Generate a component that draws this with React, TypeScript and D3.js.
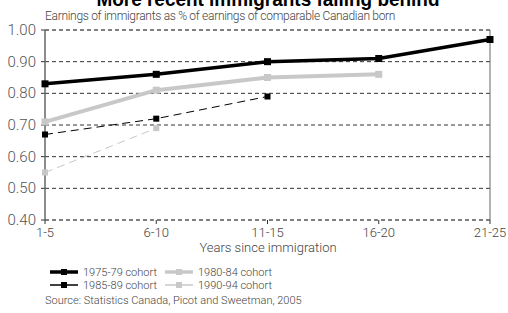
import React from "react";
import * as d3 from "d3";

const categories = ["1-5", "6-10", "11-15", "16-20", "21-25"];
const yTicks = [0.4, 0.5, 0.6, 0.7, 0.8, 0.9, 1.0];
const cohort7579 = [0.83, 0.86, 0.9, 0.91, 0.97];
const cohort8084 = [0.71, 0.81, 0.85, 0.86];
const cohort8589 = [0.67, 0.72, 0.79];
const cohort9094 = [0.55, 0.69];
const seriesNames = ["1975-79 cohort", "1980-84 cohort", "1985-89 cohort", "1990-94 cohort"];

const W = 508, H = 313;
const FONT = "Roboto, 'Open Sans', sans-serif";

export default function App() {
  const x = d3.scalePoint<string>().domain(categories).range([45, 490]);
  const y = d3.scaleLinear().domain([0.4, 1.0]).range([220, 30]);
  const line = d3.line<number>().x((_, i) => x(categories[i])!).y((d) => y(d));

  const series = [
    { name: seriesNames[0], data: cohort7579, color: "#000", width: 3.5, dash: "", ms: 7 },
    { name: seriesNames[1], data: cohort8084, color: "#c8c8c8", width: 4, dash: "", ms: 7 },
    { name: seriesNames[2], data: cohort8589, color: "#000", width: 1, dash: "8,5", ms: 6 },
    { name: seriesNames[3], data: cohort9094, color: "#c8c8c8", width: 1, dash: "8,5", ms: 6 },
  ];

  const legendPos = [
    { x: 50, y: 272 },
    { x: 165, y: 272 },
    { x: 50, y: 285 },
    { x: 165, y: 285 },
  ];

  return (
    <svg width={W} height={H} style={{ position: "absolute", left: 0, top: 0, background: "#fff" }}>
      <text x={268} y={6} textAnchor="middle" fontFamily="'Liberation Sans', Arial, sans-serif" fontWeight="bold" fontSize={20} fill="#000" textLength={343} lengthAdjust="spacingAndGlyphs">
        More recent immigrants falling behind
      </text>
      <text x={45} y={20} fontFamily={FONT} fontWeight={300} fontSize={12} fill="#444" letterSpacing={-0.3}>
        Earnings of immigrants as % of earnings of comparable Canadian born
      </text>
      {yTicks.map((t) => (
        <g key={t}>
          <line x1={45} x2={490} y1={y(t)} y2={y(t)} stroke={t === 1 || t === 0.4 ? "#000" : "#333"} strokeWidth={1} strokeDasharray="4,3" />
          <line x1={41} x2={45} y1={y(t)} y2={y(t)} stroke="#333" />
          <text x={36} y={y(t) + 5} textAnchor="end" fontFamily={FONT} fontWeight={300} fontSize={15} fill="#555">
            {t.toFixed(2)}
          </text>
        </g>
      ))}
      <line x1={45} x2={45} y1={30} y2={220} stroke="#666" strokeWidth={1.5} />
      <line x1={490} x2={490} y1={30} y2={220} stroke="#666" strokeWidth={1} />
      {categories.map((c) => (
        <g key={c}>
          <line x1={x(c)} x2={x(c)} y1={220} y2={224} stroke="#333" />
          <text x={x(c)} y={237} textAnchor="middle" fontFamily={FONT} fontWeight={300} fontSize={13} fill="#444">
            {c}
          </text>
        </g>
      ))}
      <text x={268} y={252} textAnchor="middle" fontFamily={FONT} fontWeight={300} fontSize={13} fill="#444">
        Years since immigration
      </text>
      {series.map((s) => (
        <g key={s.name}>
          <path d={line(s.data) || ""} fill="none" stroke={s.color} strokeWidth={s.width} strokeDasharray={s.dash} />
          {s.data.map((v, i) => (
            <rect key={i} x={x(categories[i])! - s.ms / 2} y={y(v) - s.ms / 2} width={s.ms} height={s.ms} fill={s.color} />
          ))}
        </g>
      ))}
      {series.map((s, i) => {
        const p = legendPos[i];
        return (
          <g key={s.name}>
            <line x1={p.x} x2={p.x + 28} y1={p.y} y2={p.y} stroke={s.color} strokeWidth={s.width === 1 ? 1.5 : 3.5} />
            <rect x={p.x + 11} y={p.y - 3} width={6} height={6} fill={s.color} />
            <text x={p.x + 33} y={p.y + 4} fontFamily={FONT} fontWeight={300} fontSize={11} fill="#444">
              {s.name}
            </text>
          </g>
        );
      })}
      <text x={45} y={304} fontFamily={FONT} fontWeight={300} fontSize={11} fill="#444">
        Source: Statistics Canada, Picot and Sweetman, 2005
      </text>
    </svg>
  );
}
